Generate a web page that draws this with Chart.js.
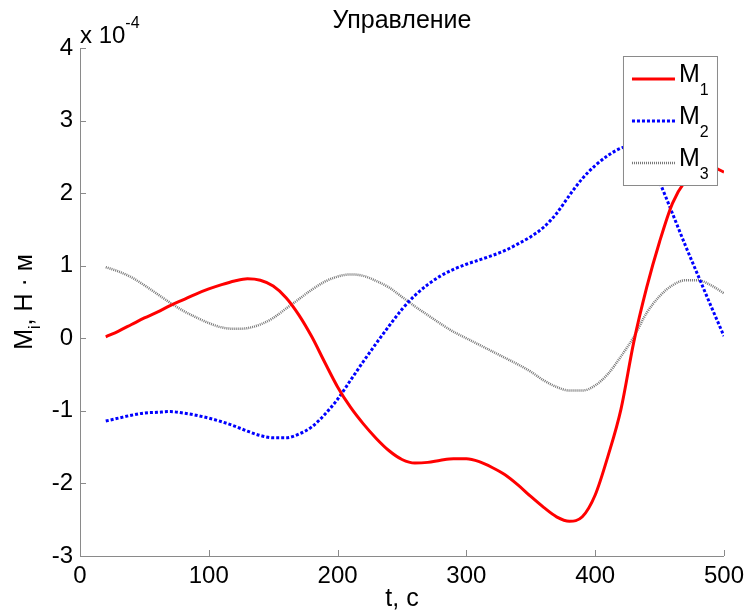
<!DOCTYPE html>
<html>
<head>
<meta charset="utf-8">
<title>Управление</title>
<script src="https://cdn.jsdelivr.net/npm/chart.js@4.4.1/dist/chart.umd.min.js"></script>
<style>
  html, body { margin: 0; padding: 0; background: #fff; }
  #wrap { width: 750px; height: 614px; }
</style>
</head>
<body>
<div id="wrap"><canvas id="chart" width="750" height="614"></canvas></div>
<script>
// Данные (значения в единицах 10^-4 Н·м)
const times = [20, 30, 40, 50, 60, 70, 80, 90, 100, 110, 120, 130, 140, 150, 160, 170, 180, 190, 200,
  210, 220, 230, 240, 250, 260, 270, 280, 290, 300, 310, 320, 330, 340, 350, 360, 370, 380, 390, 400,
  410, 420, 430, 440, 450, 460, 470, 480, 490, 500];

const m1 = [0.02, 0.10, 0.19, 0.28, 0.36, 0.45, 0.53, 0.61, 0.68, 0.74, 0.79, 0.82, 0.80, 0.72, 0.56,
  0.32, 0.02, -0.33, -0.67, -0.95, -1.18, -1.38, -1.55, -1.67, -1.72, -1.71, -1.68, -1.66, -1.66,
  -1.70, -1.78, -1.88, -2.02, -2.18, -2.33, -2.46, -2.52, -2.46, -2.16, -1.62, -0.98, -0.05, 0.70,
  1.33, 1.86, 2.17, 2.33, 2.36, 2.29];

const m2 = [-1.14, -1.10, -1.06, -1.03, -1.02, -1.01, -1.03, -1.06, -1.10, -1.15, -1.21, -1.28, -1.34,
  -1.37, -1.37, -1.32, -1.22, -1.05, -0.84, -0.58, -0.32, -0.07, 0.17, 0.40, 0.59, 0.74, 0.86, 0.95,
  1.02, 1.08, 1.14, 1.21, 1.30, 1.40, 1.53, 1.72, 1.97, 2.20, 2.38, 2.52, 2.62, 2.66, 2.52, 2.15,
  1.72, 1.28, 0.86, 0.44, 0.03];

const m3 = [0.98, 0.92, 0.84, 0.73, 0.61, 0.49, 0.38, 0.29, 0.21, 0.15, 0.13, 0.14, 0.19, 0.28, 0.41,
  0.54, 0.67, 0.78, 0.85, 0.88, 0.86, 0.79, 0.70, 0.57, 0.44, 0.32, 0.20, 0.09, 0.00, -0.09, -0.18,
  -0.27, -0.36, -0.46, -0.58, -0.67, -0.72, -0.72, -0.65, -0.49, -0.25, 0.02, 0.35, 0.58, 0.73,
  0.80, 0.80, 0.73, 0.62];

const xTicks = [0, 100, 200, 300, 400, 500];
const yTicks = [-3, -2, -1, 0, 1, 2, 3, 4];

const FONT = '"Liberation Sans", Arial, sans-serif';
const AXIS_COLOR = '#8a8a8a';

function points(ys) {
  return times.map((t, i) => ({ x: t, y: ys[i] }));
}

// Рисует строку из частей (обычный текст + индексы/степени)
function drawParts(ctx, parts, x, y, align) {
  let total = 0;
  parts.forEach(p => {
    ctx.font = p.size + 'px ' + FONT;
    p.w = ctx.measureText(p.text).width;
    total += p.w;
  });
  let cx = align === 'center' ? x - total / 2 : x;
  ctx.textAlign = 'left';
  ctx.textBaseline = 'alphabetic';
  parts.forEach(p => {
    ctx.font = p.size + 'px ' + FONT;
    ctx.fillText(p.text, cx, y + (p.dy || 0));
    cx += p.w;
  });
}

// Оформление в стиле MATLAB: внутренние засечки, подписи, легенда
const decor = {
  id: 'decor',
  afterDraw(chart) {
    const ctx = chart.ctx;
    const area = chart.chartArea;
    const xs = chart.scales.x, ys = chart.scales.y;
    ctx.save();

    // засечки внутрь области
    ctx.strokeStyle = AXIS_COLOR;
    ctx.lineWidth = 1;
    ctx.beginPath();
    xTicks.forEach(v => {
      const px = Math.round(xs.getPixelForValue(v)) + 0.5;
      ctx.moveTo(px, area.bottom);
      ctx.lineTo(px, area.bottom - 6);
    });
    yTicks.forEach(v => {
      const py = Math.round(ys.getPixelForValue(v)) + 0.5;
      ctx.moveTo(area.left, py);
      ctx.lineTo(area.left + 6, py);
    });
    ctx.stroke();

    ctx.fillStyle = '#000';
    const midX = (area.left + area.right) / 2;
    const midY = (area.top + area.bottom) / 2;

    // заголовок
    drawParts(ctx, [{ text: 'Управление', size: 25 }], midX, 28, 'center');
    // подпись оси x
    drawParts(ctx, [{ text: 't, c', size: 25 }], midX, 606, 'center');
    // множитель
    drawParts(ctx, [{ text: 'x 10', size: 24 }, { text: '-4', size: 16, dy: -15 }], area.left, 43, 'left');

    // подпись оси y
    ctx.save();
    ctx.translate(32, midY);
    ctx.rotate(-Math.PI / 2);
    drawParts(ctx, [{ text: 'M', size: 25 }, { text: 'i', size: 16, dy: 8 }, { text: ', H · м', size: 25 }], 0, 0, 'center');
    ctx.restore();

    // легенда
    const bx = area.right - 101, by = area.top + 8, bw = 94, bh = 129;
    ctx.fillStyle = '#fff';
    ctx.fillRect(bx, by, bw, bh);
    ctx.strokeStyle = AXIS_COLOR;
    ctx.lineWidth = 1;
    ctx.strokeRect(bx + 0.5, by + 0.5, bw, bh);
    chart.data.datasets.forEach((ds, i) => {
      const ly = by + 23 + 42 * i;
      ctx.strokeStyle = ds.borderColor;
      ctx.lineWidth = ds.borderWidth;
      ctx.setLineDash(ds.borderDash || []);
      ctx.beginPath();
      ctx.moveTo(bx + 9, ly);
      ctx.lineTo(bx + 52, ly);
      ctx.stroke();
      ctx.setLineDash([]);
      ctx.fillStyle = '#000';
      drawParts(ctx, [{ text: ds.label.charAt(0), size: 25 }, { text: ds.label.slice(1), size: 16, dy: 13 }], bx + 56, ly + 3, 'left');
    });

    ctx.restore();
  }
};

new Chart(document.getElementById('chart'), {
  type: 'line',
  data: {
    datasets: [
      { label: 'M1', data: points(m1), borderColor: '#ff0000', borderWidth: 3, cubicInterpolationMode: 'monotone', pointRadius: 0 },
      { label: 'M2', data: points(m2), borderColor: '#0000ff', borderWidth: 3, borderDash: [3, 2], cubicInterpolationMode: 'monotone', pointRadius: 0 },
      { label: 'M3', data: points(m3), borderColor: '#777777', borderWidth: 2.5, borderDash: [1, 1], cubicInterpolationMode: 'monotone', pointRadius: 0 }
    ]
  },
  options: {
    responsive: false,
    animation: false,
    layout: { padding: { top: 48, right: 26, left: 0, bottom: 0 } },
    plugins: {
      legend: { display: false },
      tooltip: { enabled: false },
      title: { display: false }
    },
    scales: {
      x: {
        type: 'linear',
        min: 0,
        max: 500,
        afterBuildTicks: s => { s.ticks = xTicks.map(v => ({ value: v })); },
        afterFit: s => { s.height = 58; },
        grid: { display: false, drawTicks: false },
        border: { display: true, color: AXIS_COLOR, width: 1 },
        ticks: { color: '#000', padding: 6, font: { family: FONT, size: 24 }, maxRotation: 0, callback: v => String(v) }
      },
      y: {
        min: -3,
        max: 4,
        afterBuildTicks: s => { s.ticks = yTicks.map(v => ({ value: v })); },
        afterFit: s => { s.width = 80; },
        grid: { display: false, drawTicks: false },
        border: { display: true, color: AXIS_COLOR, width: 1 },
        ticks: { color: '#000', padding: 7, font: { family: FONT, size: 24 }, callback: v => String(v) }
      }
    }
  },
  plugins: [decor]
});
</script>
</body>
</html>
